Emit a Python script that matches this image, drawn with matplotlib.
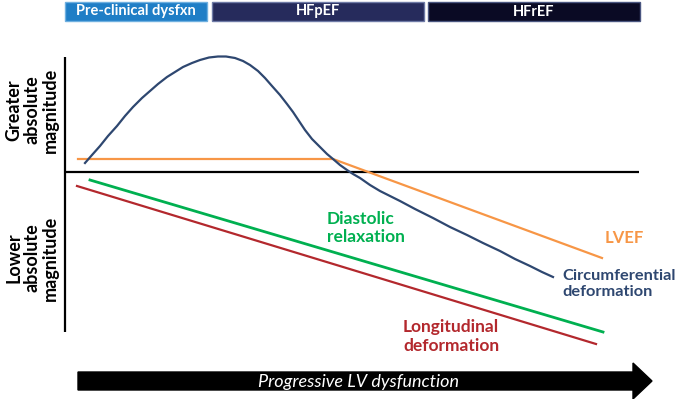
import matplotlib
matplotlib.use("Agg")
import matplotlib.pyplot as plt
from matplotlib.patches import Rectangle, FancyArrow

plt.rcParams['font.family'] = ['Lato', 'DejaVu Sans']

# ---- data (x: progression, y: magnitude relative to baseline) ----
circ_px = [85, 92, 100, 108, 117, 125, 133, 142, 150, 158, 167, 175, 183, 192, 200,
           209, 218, 226, 235, 243, 250, 258, 265, 272, 280, 287, 293, 299, 305, 312,
           320, 327, 333, 340, 347, 353, 360, 370, 380, 390, 400, 415, 433, 450, 467,
           483, 500, 515, 530, 542, 553]
circ_py = [163, 155, 146, 136, 126, 116, 107, 98, 91, 84, 77, 72, 67, 63, 60,
           57.5, 56.5, 56.5, 58, 61, 65, 71, 78, 86, 95, 104, 112, 121, 130, 139,
           147, 154, 159, 165, 170, 174, 178, 185, 191, 196, 201, 209, 218, 227, 235,
           243, 251, 259, 266, 272, 277]
circ_x = [v - 65 for v in circ_px]
circ_y = [172 - v for v in circ_py]
lvef_x = [13, 268, 537]
lvef_y = [13, 13, -86]
diast_x = [25, 538]
diast_y = [-8, -160]
long_x = [12, 531]
long_y = [-14, -172]

stages = ["Pre-clinical dysfxn", "HFpEF", "HFrEF"]
stage_start = [0, 147, 363]
stage_end = [142, 359, 575]

C_BLUE = "#2E4770"
C_ORANGE = "#F79646"
C_GREEN = "#00B050"
C_RED = "#B3282D"

fig = plt.figure(figsize=(6.8, 3.99), dpi=100)
ax = fig.add_axes([0, 0, 1, 1])
ax.set_xlim(-65, 615)
ax.set_ylim(-227, 172)
ax.axis("off")

# axes lines
ax.plot([0, 0], [115, -160], color="black", lw=1.6, solid_capstyle="butt")
ax.plot([0, 574], [0, 0], color="black", lw=1.6, solid_capstyle="butt")

# curves
ax.plot(lvef_x, lvef_y, color=C_ORANGE, lw=1.6)
ax.plot(circ_x, circ_y, color=C_BLUE, lw=1.6, solid_joinstyle="round")
ax.plot(diast_x, diast_y, color=C_GREEN, lw=2.0)
ax.plot(long_x, long_y, color=C_RED, lw=1.6)

# stage header bars
fills = ["#1F7EC6", "#262B5C", "#0A0A24"]
edges = ["#6FB0E0", "#6E7AA6", "#4A5680"]
for s, a, b, fc, ec in zip(stages, stage_start, stage_end, fills, edges):
    ax.add_patch(Rectangle((a, 151), b - a, 19, facecolor=fc, edgecolor=ec, lw=1.0))
    ax.text((a + b) / 2, 160.5, s, color="white", fontsize=10.5, fontweight="bold",
            ha="center", va="center")

# y-axis descriptors
ax.text(-33, 62, "Greater\nabsolute\nmagnitude", rotation=90, ha="center", va="center",
        multialignment="center", fontsize=13, fontweight="bold", color="black",
        linespacing=1.1)
ax.text(-33, -86, "Lower\nabsolute\nmagnitude", rotation=90, ha="center", va="center",
        multialignment="center", fontsize=13, fontweight="bold", color="black",
        linespacing=1.1)

# series labels
ax.text(262, -56, "Diastolic\nrelaxation", color=C_GREEN, fontsize=12.5, fontweight="bold",
        ha="left", va="center", linespacing=1.2)
ax.text(540, -66, "LVEF", color=C_ORANGE, fontsize=12, fontweight="bold",
        ha="left", va="center")
ax.text(497, -112, "Circumferential\ndeformation", color=C_BLUE, fontsize=11.8,
        fontweight="bold", ha="left", va="center", linespacing=1.25)
ax.text(338, -164.5, "Longitudinal\ndeformation", color=C_RED, fontsize=12.5,
        fontweight="bold", ha="left", va="center", linespacing=1.2)

# progression arrow
ax.add_patch(FancyArrow(13, -209, 574, 0, width=18, head_width=36, head_length=19,
                        length_includes_head=True, color="black"))
ax.text(294, -210, "Progressive LV dysfunction", color="white", fontsize=13,
        fontstyle="italic", fontweight="normal", ha="center", va="center")

fig.savefig("out.png", dpi=100)
